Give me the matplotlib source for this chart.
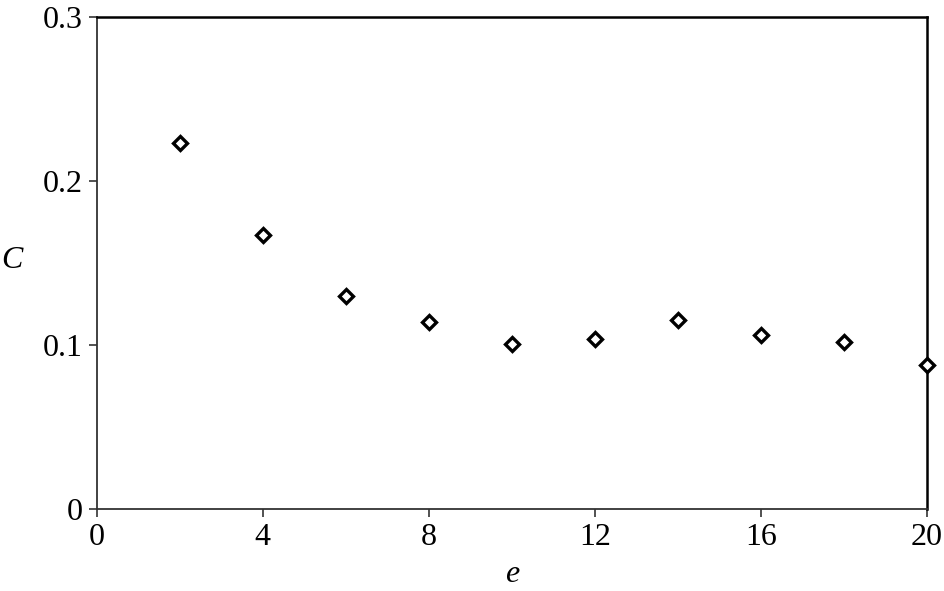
import matplotlib
matplotlib.use("Agg")
import matplotlib.pyplot as plt

e_vals = [2, 4, 6, 8, 10, 12, 14, 16, 18, 20]
c_vals = [0.223, 0.167, 0.1295, 0.114, 0.1005, 0.1035, 0.115, 0.106, 0.102, 0.088]
x_ticks = [0, 4, 8, 12, 16, 20]
y_ticks = [0, 0.1, 0.2, 0.3]
y_tick_labels = ["0", "0.1", "0.2", "0.3"]

plt.rcParams['font.family'] = ['Liberation Serif', 'DejaVu Serif']
fig = plt.figure(figsize=(9.44, 5.91), dpi=100)
ax = fig.add_axes([96.5/944, 1 - 509/591, (927-96.5)/944, (509-16.5)/591])
ax.plot(e_vals, c_vals, linestyle='none', marker='D', markersize=7.5,
        markerfacecolor='white', markeredgecolor='black', markeredgewidth=2.4,
        clip_on=False, zorder=5)
ax.set_xlim(0, 20)
ax.set_ylim(0, 0.3)
ax.set_xticks(x_ticks)
ax.set_xticklabels([str(t) for t in x_ticks])
ax.set_yticks(y_ticks)
ax.set_yticklabels(y_tick_labels)
ax.tick_params(direction='out', length=6, width=1.2, color='#333333',
               labelsize=23, pad=4)
for s in ['left', 'bottom']:
    ax.spines[s].set_linewidth(1.3)
    ax.spines[s].set_color('#333333')
for s in ['top', 'right']:
    ax.spines[s].set_linewidth(1.8)
    ax.spines[s].set_color('black')
fig.text(12/944, 1 - 260/591, 'C', fontsize=23, style='italic', ha='center', va='center')
fig.text(512/944, 1 - 575/591, 'e', fontsize=23, style='italic', ha='center', va='center')
fig.savefig('out.png', dpi=100)
